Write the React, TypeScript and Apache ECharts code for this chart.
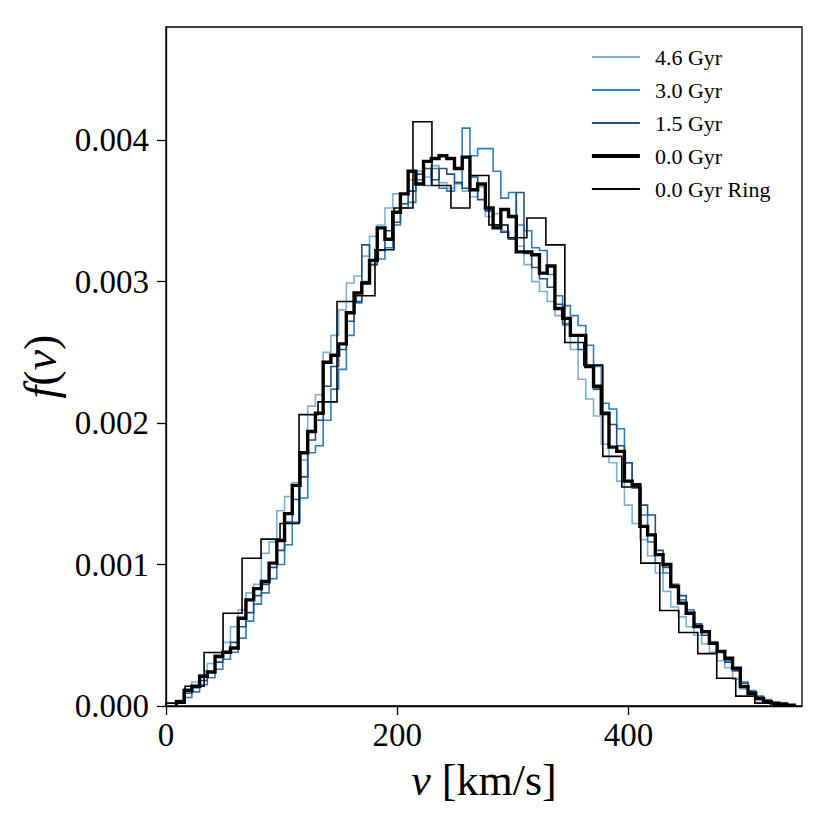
import React, { useEffect, useRef } from "react";
import * as echarts from "echarts";

// Histogram bin layout (km/s)
const MAIN_START = 9.0;
const MAIN_WIDTH = 6.68;
const RING_START = 0.1;
const RING_WIDTH = 16.42;

// f(v) values per bin, in units of 1e-3
const gyr46 = [
  0.04, 0.12, 0.17, 0.22, 0.30, 0.36, 0.45, 0.56, 0.68, 0.80,
  0.86, 1.08, 1.16, 1.38, 1.48, 1.58, 1.74, 2.12, 2.20, 2.50,
  2.62, 2.80, 2.99, 3.04, 3.18, 3.32, 3.40, 3.52, 3.62, 3.62,
  3.72, 3.78, 3.74, 3.82, 3.70, 3.66, 3.69, 3.64, 3.60, 3.67,
  3.46, 3.48, 3.36, 3.30, 3.25, 3.12, 3.00, 2.93, 2.86, 2.76,
  2.69, 2.52, 2.31, 2.17, 2.05, 1.85, 1.72, 1.59, 1.42, 1.29,
  1.175, 1.06, 0.94, 0.81, 0.70, 0.63, 0.56, 0.50, 0.44, 0.38,
  0.32, 0.27, 0.19, 0.12, 0.07, 0.04, 0.025, 0.015, 0.008, 0.003,
];

const gyr30 = [
  0.02, 0.06, 0.10, 0.15, 0.20, 0.26, 0.33, 0.38, 0.48, 0.60,
  0.72, 0.80, 0.90, 1.00, 1.14, 1.30, 1.47, 1.79, 1.84, 2.02,
  2.24, 2.38, 2.62, 2.85, 3.00, 3.12, 3.16, 3.24, 3.40, 3.52,
  3.56, 3.72, 3.68, 3.80, 3.66, 3.64, 3.70, 4.085, 3.89, 3.94,
  3.94, 3.78, 3.59, 3.63, 3.40, 3.36, 3.24, 3.22, 3.05, 2.90,
  2.83, 2.76, 2.69, 2.55, 2.40, 2.14, 2.10, 1.96, 1.72, 1.54,
  1.35, 1.16, 1.01, 0.94, 0.85, 0.75, 0.68, 0.58, 0.52, 0.45,
  0.38, 0.32, 0.25, 0.17, 0.11, 0.07, 0.045, 0.025, 0.012, 0.005,
];

const gyr15 = [
  0.03, 0.09, 0.13, 0.18, 0.24, 0.31, 0.38, 0.45, 0.56, 0.66,
  0.78, 0.86, 0.98, 1.10, 1.30, 1.46, 1.62, 1.88, 2.02, 2.26,
  2.40, 2.52, 2.72, 2.86, 3.26, 3.12, 3.22, 3.36, 3.42, 3.55,
  3.64, 3.76, 3.80, 3.72, 3.80, 3.76, 3.70, 3.66, 3.74, 3.58,
  3.50, 3.40, 3.35, 3.30, 3.63, 3.20, 3.10, 3.02, 2.96, 2.84,
  2.70, 2.62, 2.52, 2.40, 2.24, 2.06, 1.99, 1.84, 1.72, 1.55,
  1.42, 1.35, 1.10, 0.98, 0.86, 0.78, 0.66, 0.58, 0.50, 0.44,
  0.38, 0.31, 0.25, 0.16, 0.10, 0.06, 0.035, 0.02, 0.01, 0.004,
];

const gyr00 = [
  0.03, 0.11, 0.14, 0.21, 0.24, 0.35, 0.38, 0.41, 0.62, 0.75,
  0.83, 0.88, 1.01, 1.17, 1.36, 1.56, 1.79, 1.94, 2.07, 2.43,
  2.48, 2.56, 2.78, 2.92, 2.99, 3.15, 3.38, 3.30, 3.49, 3.62,
  3.78, 3.69, 3.85, 3.87, 3.89, 3.87, 3.80, 3.88, 3.65, 3.69,
  3.52, 3.38, 3.51, 3.46, 3.21, 3.21, 3.19, 3.06, 3.11, 2.81,
  2.74, 2.62, 2.62, 2.40, 2.26, 2.07, 1.83, 1.80, 1.59, 1.565,
  1.27, 1.21, 1.07, 1.00, 0.845, 0.727, 0.656, 0.561, 0.526, 0.444,
  0.385, 0.338, 0.267, 0.137, 0.09, 0.054, 0.031, 0.02, 0.015, 0.005,
];

const gyr00Ring = [
  0.02, 0.14, 0.378, 0.656, 1.045, 1.18, 1.29, 2.06, 2.15, 2.86,
  2.90, 3.225, 3.52, 4.13, 3.68, 3.52, 3.75, 3.40, 3.31, 3.45,
  3.26, 2.57, 2.41, 1.765, 1.548, 1.01, 0.675, 0.52, 0.37, 0.196,
  0.07, 0.02, 0.005,
];

const seriesNames = ["4.6 Gyr", "3.0 Gyr", "1.5 Gyr", "0.0 Gyr", "0.0 Gyr Ring"];
const seriesColors = ["#7ab1d9", "#2f7dbb", "#1f5283", "#000000", "#000000"];
const seriesWidths = [1.6, 1.6, 1.6, 3.4, 1.6];

const xTicks = [0, 200, 400];
const yTicks = [0, 0.001, 0.002, 0.003, 0.004];

const FONT = "'Liberation Serif', 'DejaVu Serif', serif";

function stepPoints(start: number, width: number, vals: number[]) {
  const pts: number[][] = [[start, 0]];
  vals.forEach((v, i) => {
    pts.push([start + i * width, v * 1e-3]);
    pts.push([start + (i + 1) * width, v * 1e-3]);
  });
  pts.push([start + vals.length * width, 0]);
  return pts;
}

export default function App() {
  const ref = useRef<HTMLDivElement>(null);
  useEffect(() => {
    if (!ref.current) return;
    const chart = echarts.init(ref.current, undefined, { renderer: "svg" });
    const datasets = [
      stepPoints(MAIN_START, MAIN_WIDTH, gyr46),
      stepPoints(MAIN_START, MAIN_WIDTH, gyr30),
      stepPoints(MAIN_START, MAIN_WIDTH, gyr15),
      stepPoints(MAIN_START, MAIN_WIDTH, gyr00),
      stepPoints(RING_START, RING_WIDTH, gyr00Ring),
    ];
    const axisLineStyle = { color: "#000", width: 1.3 };
    chart.setOption({
      animation: false,
      backgroundColor: "#fff",
      grid: {
        left: 166,
        right: 28,
        top: 27,
        bottom: 124,
        show: true,
        borderColor: "#000",
        borderWidth: 1.3,
        backgroundColor: "transparent",
      },
      legend: {
        data: seriesNames.map((name, i) => ({
          name,
          lineStyle: { width: seriesWidths[i] + 0.4, color: seriesColors[i] },
        })),
        orient: "vertical",
        left: 585,
        top: 41,
        itemWidth: 48,
        itemHeight: 14,
        itemGap: 11,
        itemStyle: { opacity: 0 },
        textStyle: {
          fontFamily: FONT,
          fontSize: 22,
          color: "#000",
          padding: [0, 0, 0, 10],
        },
      },
      xAxis: {
        type: "value",
        min: 0,
        max: 550,
        interval: 200,
        name: "{i|v} [km/s]",
        nameLocation: "middle",
        nameGap: 52,
        nameTextStyle: {
          fontFamily: FONT,
          fontSize: 44,
          color: "#000",
          rich: {
            i: { fontFamily: FONT, fontSize: 44, fontStyle: "italic", color: "#000" },
          },
        },
        axisLine: { show: true, onZero: false, lineStyle: axisLineStyle },
        axisTick: {
          show: true,
          inside: false,
          length: 9,
          customValues: xTicks,
          lineStyle: axisLineStyle,
        },
        axisLabel: {
          customValues: xTicks,
          fontFamily: FONT,
          fontSize: 33,
          color: "#000",
          margin: 12,
        },
        splitLine: { show: false },
      },
      yAxis: {
        type: "value",
        min: 0,
        max: 0.0048,
        interval: 0.001,
        name: "{i|f}({i|v})",
        nameLocation: "middle",
        nameRotate: 90,
        nameGap: 100,
        nameTextStyle: {
          fontFamily: FONT,
          fontSize: 46,
          color: "#000",
          rich: {
            i: { fontFamily: FONT, fontSize: 46, fontStyle: "italic", color: "#000" },
          },
        },
        axisLine: { show: true, onZero: false, lineStyle: axisLineStyle },
        axisTick: {
          show: true,
          inside: false,
          length: 9,
          customValues: yTicks,
          lineStyle: axisLineStyle,
        },
        axisLabel: {
          customValues: yTicks,
          fontFamily: FONT,
          fontSize: 33,
          color: "#000",
          margin: 17,
          formatter: (v: number) => v.toFixed(3),
        },
        splitLine: { show: false },
      },
      series: seriesNames.map((name, i) => ({
        name,
        type: "line",
        data: datasets[i],
        symbol: "none",
        showSymbol: false,
        color: seriesColors[i],
        lineStyle: { color: seriesColors[i], width: seriesWidths[i], join: "miter" },
        z: 2 + i,
        silent: true,
      })),
    });
    return () => chart.dispose();
  }, []);
  return (
    <div
      ref={ref}
      style={{ position: "fixed", left: 0, top: 0, width: 830, height: 830, background: "#fff" }}
    />
  );
}
